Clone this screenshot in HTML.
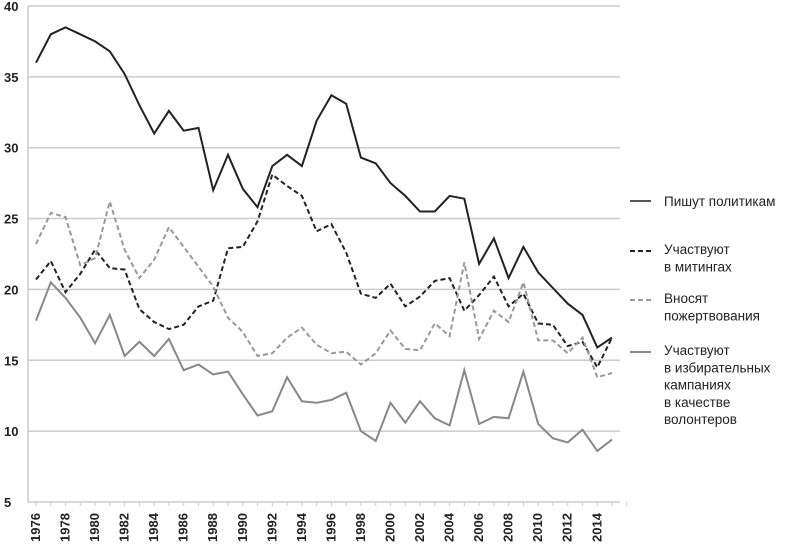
<!DOCTYPE html>
<html><head><meta charset="utf-8"><style>
body{margin:0;background:#fff;width:790px;height:545px;overflow:hidden}
svg text{font-family:"Liberation Sans",sans-serif}
</style></head><body>
<svg id="s" width="790" height="545" xmlns="http://www.w3.org/2000/svg"></svg>
<script>
var s=document.getElementById('s');
function Y(v){return 6+(40-v)*14.17}
function X(i){return 36+i*14.77}
var h='';
for(var v=5;v<=40;v+=5){var y=Y(v);h+='<line x1="28" x2="620" y1="'+y+'" y2="'+y+'" stroke="#ccc" stroke-width="1.5"/>';
h+='<text x="4" y="'+(y+5)+'" font-size="13" font-weight="bold" fill="#222">'+v+'</text>';}
h+='<line x1="28" x2="28" y1="6" y2="502" stroke="#ccc" stroke-width="1.5"/>';
for(var i=0;i<=40;i++){h+='<line x1="'+X(i)+'" x2="'+X(i)+'" y1="502" y2="506" stroke="#ccc"/>';}
for(var yr=1976;yr<=2014;yr+=2){var x=X(yr-1976)+4;h+='<text transform="translate('+x+',542) rotate(-90)" font-size="13" font-weight="bold" fill="#222">'+yr+'</text>';}
var d=[
[[36,38,38.5,38,37.5,36.8,35.2,33,31,32.6,31.2,31.4,27,29.5,27.1,25.8,28.7,29.5,28.7,31.9,33.7,33.1,29.3,28.9,27.5,26.6,25.5,25.5,26.6,26.4,21.8,23.6,20.8,23,21.2,20.1,19,18.2,15.9,16.6],'#222',''],
[[20.7,22,19.8,21.1,22.8,21.5,21.4,18.6,17.7,17.2,17.5,18.8,19.2,22.9,23,24.8,28.1,27.3,26.6,24.1,24.6,22.6,19.7,19.4,20.4,18.8,19.5,20.6,20.8,18.5,19.6,20.9,18.8,19.7,17.6,17.5,16,16.3,14.5,16.6],'#222','5,3'],
[[23.2,25.4,25.1,21.7,22.2,26.2,22.8,20.8,22.1,24.4,23,21.6,20.2,18,17,15.3,15.5,16.6,17.3,16.1,15.5,15.6,14.7,15.5,17.1,15.8,15.7,17.6,16.7,21.9,16.5,18.5,17.7,20.5,16.4,16.4,15.5,16.6,13.8,14.1],'#999','5,3'],
[[17.8,20.5,19.4,18,16.2,18.2,15.3,16.3,15.3,16.5,14.3,14.7,14,14.2,12.6,11.1,11.4,13.8,12.1,12,12.2,12.7,10,9.3,12,10.6,12.1,10.9,10.4,14.3,10.5,11,10.9,14.2,10.5,9.5,9.2,10.1,8.6,9.4],'#888','']];
d.forEach(function(s){var p=s[0].map(function(v,i){return X(i).toFixed(1)+','+Y(v).toFixed(1)}).join(' ');
h+='<polyline points="'+p+'" fill="none" stroke="'+s[1]+'" stroke-width="2"'+(s[2]?' stroke-dasharray="'+s[2]+'"':'')+'/>';});
var L=[[201,'#555','',['Пишут политикам']],[251,'#222','5,3',['Участвуют','в митингах']],[300,'#999','5,3',['Вносят','пожертвования']],[352,'#888','',['Участвуют','в избирательных','кампаниях','в качестве','волонтеров']]];
L.forEach(function(l){h+='<line x1="630" x2="651" y1="'+l[0]+'" y2="'+l[0]+'" stroke="'+l[1]+'" stroke-width="2"'+(l[2]?' stroke-dasharray="'+l[2]+'"':'')+'/>';
l[3].forEach(function(t,k){h+='<text x="664" y="'+(l[0]+5+k*17.3-(l[3].length>1?2:0))+'" font-size="13.5" fill="#222">'+t+'</text>';});});
s.innerHTML=h;
</script>
</body></html>
